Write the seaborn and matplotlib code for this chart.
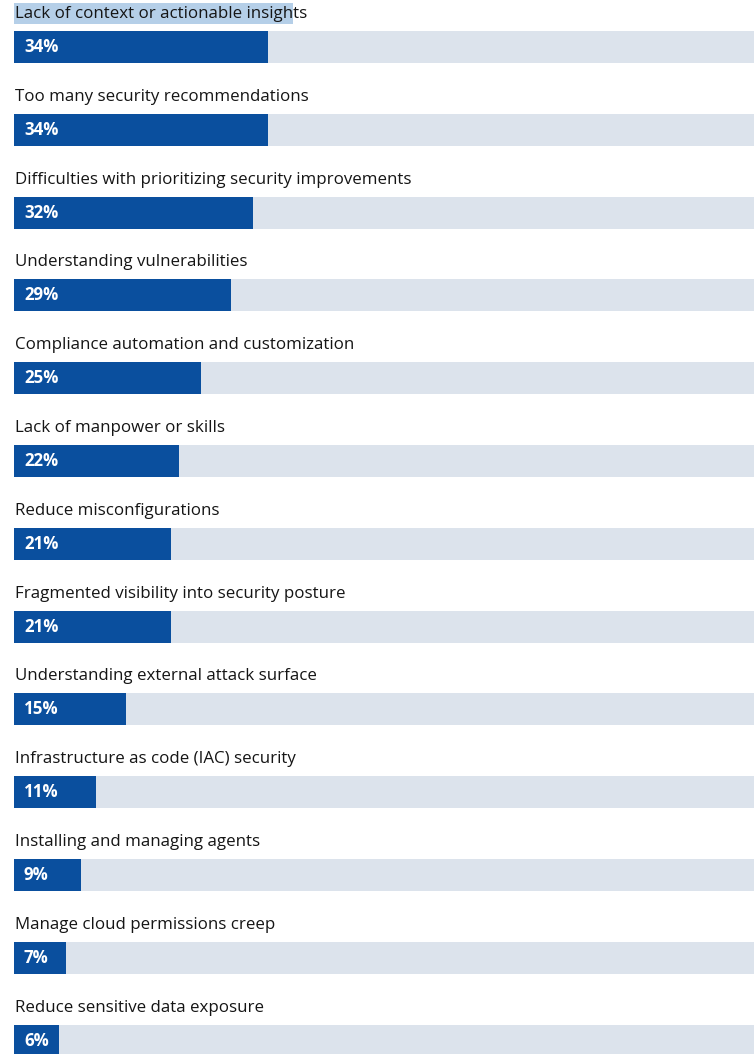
import matplotlib
matplotlib.use("Agg")
import matplotlib.pyplot as plt
from matplotlib.patches import Rectangle
import seaborn as sns
import pandas as pd
import numpy as np

categories = [
    "Lack of context or actionable insights",
    "Too many security recommendations",
    "Difficulties with prioritizing security improvements",
    "Understanding vulnerabilities",
    "Compliance automation and customization",
    "Lack of manpower or skills",
    "Reduce misconfigurations",
    "Fragmented visibility into security posture",
    "Understanding external attack surface",
    "Infrastructure as code (IAC) security",
    "Installing and managing agents",
    "Manage cloud permissions creep",
    "Reduce sensitive data exposure",
]
values = [34, 34, 32, 29, 25, 22, 21, 21, 15, 11, 9, 7, 6]
full = [100] * len(values)

BLUE = "#0a4f9e"
TRACK = "#dce3ec"
TEXT = "#151515"

sns.set_theme(style="white")
plt.rcParams['font.family'] = ['Open Sans', 'DejaVu Sans']

df = pd.DataFrame({"cat": categories, "val": values, "full": full})

fig = plt.figure(figsize=(7.54, 10.54), dpi=100)
ax = fig.add_axes([0, 0, 1, 1])

row = 82.8
bar_h = 32 / row
sns.barplot(data=df, x="full", y="cat", orient="h", color=TRACK, width=bar_h,
            ax=ax, saturation=1, errorbar=None, linewidth=0)
sns.barplot(data=df, x="val", y="cat", orient="h", color=BLUE, width=bar_h,
            ax=ax, saturation=1, errorbar=None, linewidth=0)

px = 7.48
ax.set_xlim(-14 / px, (754 - 14) / px)
ax.set_ylim((1054 - 47) / row, -47 / row)
ax.axis("off")

# text-selection highlight on the first label (as in the source screenshot)
ax.add_patch(Rectangle((0, -44 / row), (293 - 14) / px, 21 / row,
                       facecolor="#b5cfe8", edgecolor="none", zorder=0.5))

for i, (c, v) in enumerate(zip(categories, values)):
    ax.text(0.15, i - 33 / row, c, va="center", ha="left", fontsize=12.15,
            color=TEXT, zorder=3)
    ax.text(10 / px, i, f"{v}%", va="center", ha="left", fontsize=12.2,
            color="white", fontweight="bold", zorder=3)

fig.savefig("out.png", dpi=100)
